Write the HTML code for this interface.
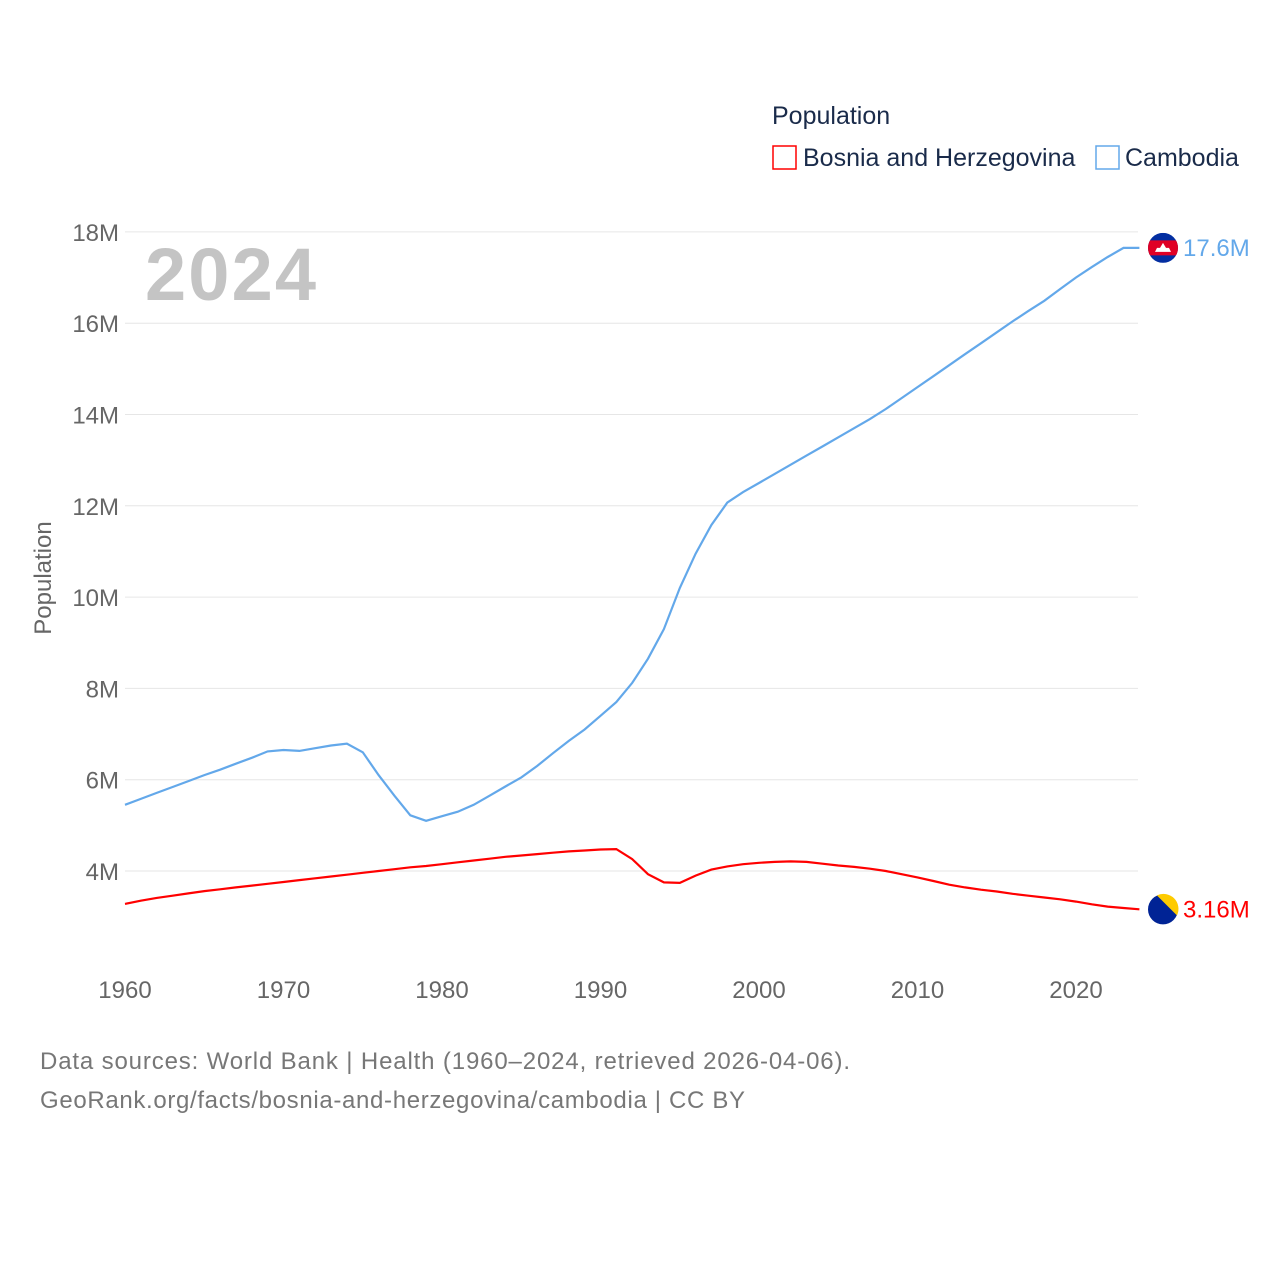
<!DOCTYPE html>
<html><head><meta charset="utf-8"><style>
body{margin:0;background:#fff;width:1280px;height:1280px;overflow:hidden;font-family:"Liberation Sans",sans-serif}
</style></head><body>
<svg width="1280" height="1280" id="chart" font-family="Liberation Sans, sans-serif">
<text x="772" y="124" font-size="25" fill="#1a2b4a">Population</text>
<rect x="773" y="146" width="23" height="23" fill="none" stroke="#ff0000" stroke-width="1.5"/>
<text x="803" y="166" font-size="25" fill="#1a2b4a">Bosnia and Herzegovina</text>
<rect x="1096" y="146" width="23" height="23" fill="none" stroke="#63a8ea" stroke-width="1.5"/>
<text x="1125" y="166" font-size="25" fill="#1a2b4a">Cambodia</text>
<text x="145" y="300" font-size="74" font-weight="bold" fill="#c4c4c4" textLength="171">2024</text>
<text transform="translate(51,578) rotate(-90)" text-anchor="middle" font-size="24" fill="#666">Population</text>
<g id="grid"></g><g id="series"></g>
<text x="40" y="1069" font-size="24" fill="#777" textLength="810">Data sources: World Bank | Health (1960–2024, retrieved 2026-04-06).</text>
<text x="40" y="1108" font-size="24" fill="#777" textLength="705">GeoRank.org/facts/bosnia-and-herzegovina/cambodia | CC BY</text>
</svg>
<script>
const years=[];for(let y=1960;y<=2024;y++)years.push(y);
const cambodia=[5.45,5.58,5.71,5.84,5.97,6.10,6.22,6.35,6.48,6.62,6.65,6.63,6.69,6.75,6.79,6.60,6.10,5.65,5.22,5.10,5.20,5.30,5.45,5.65,5.85,6.05,6.30,6.58,6.85,7.10,7.40,7.70,8.12,8.65,9.30,10.20,10.95,11.58,12.07,12.30,12.50,12.70,12.90,13.10,13.30,13.50,13.70,13.90,14.12,14.36,14.60,14.84,15.08,15.32,15.56,15.80,16.04,16.27,16.49,16.75,17.00,17.23,17.45,17.65,17.65];
const bosnia=[3.28,3.35,3.41,3.46,3.51,3.56,3.60,3.64,3.68,3.72,3.76,3.80,3.84,3.88,3.92,3.96,4.00,4.04,4.08,4.11,4.15,4.19,4.23,4.27,4.31,4.34,4.37,4.40,4.43,4.45,4.47,4.48,4.26,3.93,3.75,3.74,3.90,4.03,4.10,4.15,4.18,4.20,4.21,4.20,4.16,4.12,4.09,4.05,4.00,3.93,3.86,3.78,3.70,3.64,3.59,3.55,3.50,3.46,3.42,3.38,3.33,3.27,3.22,3.19,3.16];
const yTicks=[4,6,8,10,12,14,16,18];
const xTicks=[1960,1970,1980,1990,2000,2010,2020];
const X=y=>125+(y-1960)*15.85, Y=v=>1053.6-v*45.65;
const NS='http://www.w3.org/2000/svg';
const grid=document.getElementById('grid'), ser=document.getElementById('series');
function mk(tag,attrs,parent,txt){const e=document.createElementNS(NS,tag);for(const k in attrs)e.setAttribute(k,attrs[k]);if(txt!=null)e.textContent=txt;parent.appendChild(e);return e;}
yTicks.forEach(t=>{
 const l=mk('line',{x1:125,x2:1138,y1:Y(t),y2:Y(t),stroke:'#e6e6e6','stroke-width':1},grid);
 
 
 const tx=mk('text',{x:119,y:Y(t)+9,'text-anchor':'end','font-size':24,fill:'#666'},grid,t+'M');
 
 
});
xTicks.forEach(t=>{
 const tx=mk('text',{x:X(t),y:998,'text-anchor':'middle','font-size':24,fill:'#666'},grid,String(t));
 
 
});
function line(vals,color,name){
 const p=mk('path',{d:vals.map((v,i)=>(i?'L':'M')+X(years[i]).toFixed(1)+','+Y(v).toFixed(1)).join(''),fill:'none',stroke:color,'stroke-width':2.2},ser);
 
 
}
line(cambodia,'#63a8ea','cambodia-line');
line(bosnia,'#ff0000','bosnia-line');
const lc=cambodia[cambodia.length-1], lb=bosnia[bosnia.length-1];
const cy=Y(lc);
const fc=mk('g',{},ser);


mk('clipPath',{id:'cc'},fc);
document.getElementById('cc').appendChild(document.createElementNS(NS,'circle'));
const c1=document.querySelector('#cc circle');c1.setAttribute('cx',1163);c1.setAttribute('cy',cy);c1.setAttribute('r',15);
const gc=mk('g',{'clip-path':'url(#cc)'},fc);
mk('rect',{x:1148,y:cy-15,width:30,height:30,fill:'#032ea1'},gc);
mk('rect',{x:1148,y:cy-7.5,width:30,height:15,fill:'#e00025'},gc);
mk('path',{d:`M1155 ${cy+4}h16l-2-4h-3l-3-5-3 5h-3z`,fill:'#fff'},gc);
const tc=mk('text',{x:1183,y:cy+8,'font-size':24,fill:'#63a8ea'},ser,'17.6M');


const by=Y(lb);
const fb=mk('g',{},ser);


mk('circle',{cx:1163,cy:by,r:15,fill:'#002395'},fb);
mk('path',{d:`M${1163-6} ${by-14}L${1163+14} ${by+6}A15 15 0 0 0 ${1163-6} ${by-14}z`,fill:'#fecb00'},fb);
mk('path',{d:`M${1163-6} ${by-14}L${1163+14} ${by+6}L${1163+13} ${by-7}z`,fill:'#fecb00'},fb);
const tb=mk('text',{x:1183,y:by+8,'font-size':24,fill:'#ff0000'},ser,'3.16M');


</script>
</body></html>
